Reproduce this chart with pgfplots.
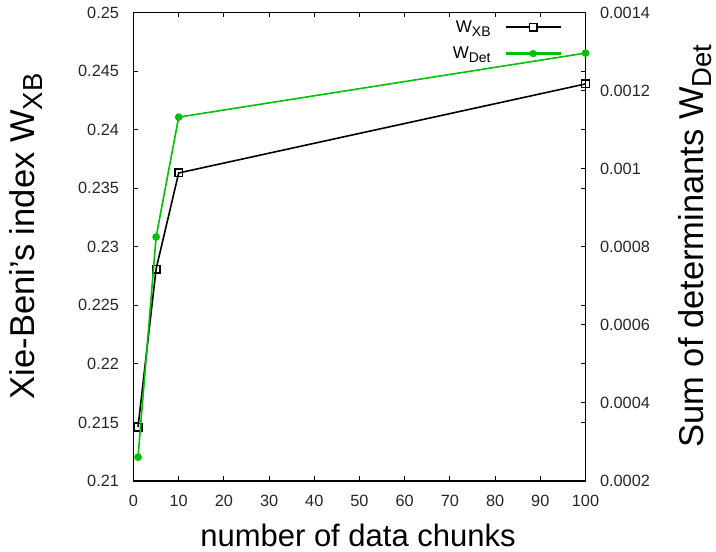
\documentclass[border=0pt]{standalone}
\usepackage{fontspec}
\setmainfont{Liberation Sans}
\usepackage{pgfplots}
\pgfplotsset{compat=1.18}
\definecolor{gpgreen}{RGB}{0,192,0}
\newcommand{\lsub}[1]{\raisebox{-0.22em}{\fontsize{27.5}{28}\selectfont #1}}
\newcommand{\tsub}[1]{\raisebox{-0.25em}{\fontsize{14}{15}\selectfont #1}}
\begin{document}
\begin{tikzpicture}
\path[use as bounding box] (0,0) rectangle (716pt,552pt);
\begin{axis}[
  at={(133.5pt,71pt)}, anchor=south west,
  scale only axis, width=452pt, height=468.5pt,
  xmin=0, xmax=100, ymin=0.21, ymax=0.25,
  xtick={0,10,20,30,40,50,60,70,80,90,100},
  ytick={0.21,0.215,0.22,0.225,0.23,0.235,0.24,0.245,0.25},
  tick align=inside, xtick pos=both, ytick pos=both,
  yticklabel pos=left, xticklabel pos=bottom,
  major tick length=5pt,
  axis line style={line width=1.2pt},
  every tick/.style={black, line width=1pt},
  scaled y ticks=false,
  /pgf/number format/assume math mode=true,
  yticklabel style={/pgf/number format/fixed, /pgf/number format/precision=3, xshift=-11pt},
  xticklabel style={yshift=-11pt},
  ticklabel style={font=\fontsize{16.3}{18}\selectfont, text=black!85},
  xlabel={number of data chunks},
  xlabel style={at={(axis description cs:0.4967,-0.1405)}, anchor=base, font=\fontsize{31}{35}\selectfont},
  ylabel={Xie-Beni's index W\lsub{XB}},
  ylabel style={at={(axis description cs:-0.218,0.522)}, rotate=0, anchor=base, font=\fontsize{34.5}{38}\selectfont},
  legend style={at={(axis description cs:0.948,0.987)}, anchor=north east, draw=none, fill=none,
    inner sep=0pt, cells={anchor=east}, font=\fontsize{17}{19}\selectfont, row sep=9pt,
    /tikz/every odd column/.append style={column sep=12pt}},
  legend plot pos=right,
]
\addlegendimage{legend image code/.code={%
  \draw[black, line width=1.8pt] (0pt,0pt) -- (55pt,0pt);
  \draw[black, line width=1.4pt, fill=white] (23.7pt,-3.8pt) rectangle (31.3pt,3.8pt);}}
\addlegendentry{W\tsub{XB}}
\addlegendimage{legend image code/.code={%
  \draw[gpgreen, line width=2.2pt] (0pt,0pt) -- (55pt,0pt);
  \fill[gpgreen] (27.5pt,0pt) circle (3.4pt);}}
\addlegendentry{W\tsub{Det}}
\addplot[black, line width=1.6pt, mark=square, mark size=3.8pt, mark options={line width=1.4pt, fill=none}, forget plot]
  coordinates {(1,0.2146) (5,0.2281) (10,0.2363) (100,0.2439)};
\end{axis}
\begin{axis}[
  at={(133.5pt,71pt)}, anchor=south west,
  scale only axis, width=452pt, height=468.5pt,
  xmin=0, xmax=100, ymin=0.0002, ymax=0.0014,
  axis x line=none, axis y line*=right,
  ytick={0.0002,0.0004,0.0006,0.0008,0.001,0.0012,0.0014},
  tick align=inside, ytick pos=right, yticklabel pos=right,
  major tick length=5pt,
  axis line style={line width=1.2pt, -},
  every tick/.style={black, line width=1pt},
  scaled y ticks=false,
  /pgf/number format/assume math mode=true,
  yticklabel style={/pgf/number format/fixed, /pgf/number format/precision=4, xshift=11pt, font=\fontsize{16.3}{18}\selectfont, text=black!85},
  ylabel={Sum of determinants W\lsub{Det}},
  ylabel style={at={(axis description cs:1.262,0.5016)}, rotate=0, anchor=base, font=\fontsize{34.5}{38}\selectfont},
]
\addplot[gpgreen, line width=1.6pt, mark=*, mark size=3pt, forget plot]
  coordinates {(1,0.000261) (5,0.000825) (10,0.001132) (100,0.001296)};
\end{axis}
\end{tikzpicture}
\end{document}
